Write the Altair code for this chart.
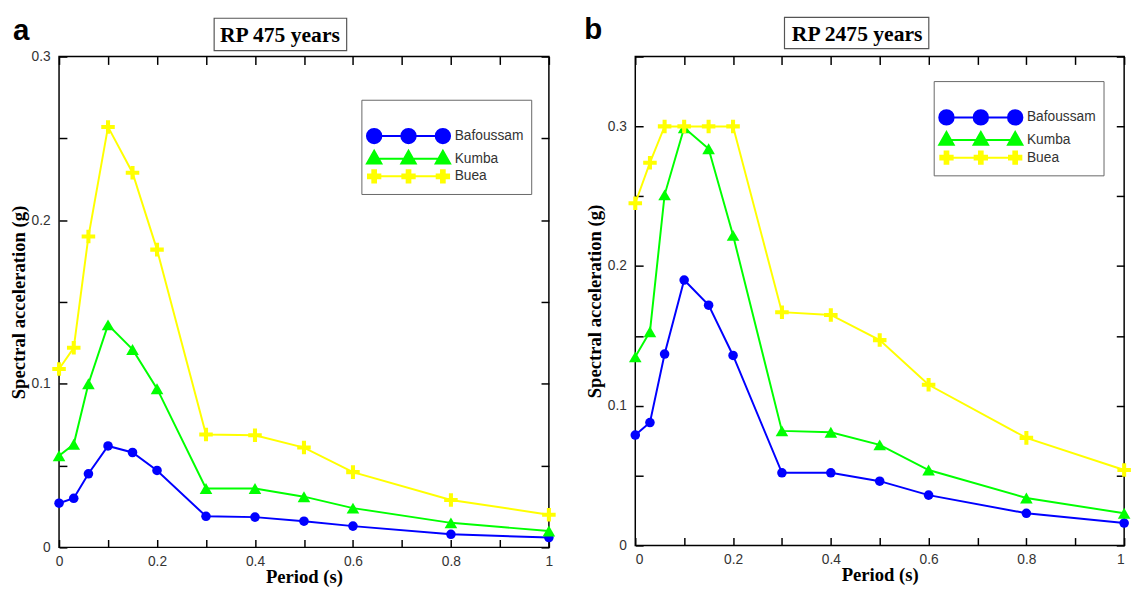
import altair as alt
import pandas as pd

# ---------------- data ----------------
PERIODS = [0, 0.03, 0.06, 0.1, 0.15, 0.2, 0.3, 0.4, 0.5, 0.6, 0.8, 1.0]
SERIES = ["Bafoussam", "Kumba", "Buea"]
COLORS = ["#0000FF", "#00FF00", "#FFFF00"]

RP475_BAFOUSSAM = [0.027, 0.030, 0.045, 0.062, 0.058, 0.047, 0.019, 0.0185, 0.016, 0.013, 0.008, 0.006]
RP475_KUMBA = [0.056, 0.063, 0.100, 0.136, 0.121, 0.097, 0.036, 0.036, 0.031, 0.024, 0.015, 0.010]
RP475_BUEA = [0.109, 0.122, 0.190, 0.257, 0.229, 0.182, 0.069, 0.0685, 0.061, 0.046, 0.029, 0.020]

RP2475_BAFOUSSAM = [0.079, 0.088, 0.137, 0.190, 0.172, 0.136, 0.052, 0.052, 0.046, 0.036, 0.023, 0.016]
RP2475_KUMBA = [0.135, 0.153, 0.251, 0.299, 0.284, 0.222, 0.082, 0.081, 0.072, 0.054, 0.034, 0.023]
RP2475_BUEA = [0.245, 0.274, 0.300, 0.300, 0.300, 0.300, 0.167, 0.165, 0.147, 0.115, 0.077, 0.054]

PANEL_LETTERS = ["a", "b"]
PANEL_TITLES = ["RP 475 years", "RP 2475 years"]
X_TITLE = "Period (s)"
Y_TITLE = "Spectral acceleration (g)"

X_TICKS = [0, 0.1, 0.2, 0.3, 0.4, 0.5, 0.6, 0.7, 0.8, 0.9, 1.0]
X_LABELED = [0, 0.2, 0.4, 0.6, 0.8, 1.0]
Y_TICKS_A = [0, 0.05, 0.1, 0.15, 0.2, 0.25, 0.3]
Y_TICKS_B = [0, 0.05, 0.1, 0.15, 0.2, 0.25, 0.3, 0.35]
Y_LABELED = [0, 0.1, 0.2, 0.3]


def long_df(values, key):
    rows = []
    for s, vals in zip(SERIES, values):
        for p, v in zip(PERIODS, vals):
            rows.append({"period": p, "value": v, key: s})
    return pd.DataFrame(rows)


# ---------------- marker shapes ----------------
PLUS = "M-1,-0.3H-0.3V-1H0.3V-0.3H1V0.3H0.3V1H-0.3V0.3H-1Z"
MARK_SHAPES = ["circle", "triangle-up", PLUS]
MARK_SIZES = [95, 165, 190]


def circ(cx, r=1.05):
    return f"M{cx - r},0A{r},{r} 0 1,0 {cx + r},0A{r},{r} 0 1,0 {cx - r},0Z"


def tri(cx):
    return f"M{cx},-1.15L{cx + 1.05},0.7L{cx - 1.05},0.7Z"


def plus(cx, a=0.9, t=0.27):
    return (f"M{cx - a},{-t}H{cx - t}V{-a}H{cx + t}V{-t}H{cx + a}V{t}H{cx + t}"
            f"V{a}H{cx - t}V{t}H{cx - a}Z")


LINE = "M-5,0H5"
LEGEND_PATHS = [
    LINE + circ(-5) + circ(0) + circ(5),
    LINE + tri(-5) + tri(0) + tri(5),
    LINE + plus(-5) + plus(0) + plus(5),
]


def lbl_expr(vals, mult):
    arr = ",".join(str(round(v * mult)) for v in vals)
    return f"indexof([{arr}], round(datum.value*{mult})) >= 0 ? format(datum.value, '~g') : ''"


def panel(values, key, letter, title, ymax, yticks, width, height, lx, ly, box, title_xy,
          letter_xy, flush):
    df = long_df(values, key)
    x_scale = alt.Scale(domain=[0, 1], nice=False, zero=False)
    y_scale = alt.Scale(domain=[0, ymax], nice=False, zero=True)

    x_bottom = alt.Axis(orient="bottom", values=X_TICKS, labelExpr=lbl_expr(X_LABELED, 10),
                        offset=-8, tickSize=8, labelPadding=7, title=X_TITLE, titlePadding=0,
                        labelFlush=flush, domain=False, grid=False)
    y_left = alt.Axis(orient="left", values=yticks, labelExpr=lbl_expr(Y_LABELED, 100),
                      offset=-8, tickSize=8, labelPadding=9, title=Y_TITLE, titlePadding=3,
                      domain=False, grid=False)
    x_top = alt.Axis(orient="top", values=X_TICKS, labels=False, offset=-8, tickSize=8,
                     minExtent=0, title=None, domain=False, grid=False)
    y_right = alt.Axis(orient="right", values=yticks, labels=False, offset=-8, tickSize=8,
                       minExtent=0, title=None, domain=False, grid=False)

    layers = []
    for i, s in enumerate(SERIES):
        xa = x_bottom if i == 0 else None
        ya = y_left if i == 0 else None
        line = alt.Chart().mark_line(strokeWidth=2, color=COLORS[i]).encode(
            x=alt.X("period:Q", scale=x_scale, axis=xa),
            y=alt.Y("value:Q", scale=y_scale, axis=ya),
        ).transform_filter(alt.datum[key] == s)
        xa2 = x_top if i == 0 else None
        ya2 = y_right if i == 0 else None
        pts = alt.Chart().mark_point(shape=MARK_SHAPES[i], filled=True, size=MARK_SIZES[i],
                                     opacity=1, strokeWidth=0, color=COLORS[i]).encode(
            x=alt.X("period:Q", scale=x_scale, axis=xa2),
            y=alt.Y("value:Q", scale=y_scale, axis=ya2),
        ).transform_filter(alt.datum[key] == s)
        layers += [line, pts]

    leg = alt.Legend(orient="none", legendX=lx, legendY=ly, direction="vertical",
                     title=" ", titleFontSize=14, titlePadding=8,
                     symbolSize=196, symbolStrokeWidth=2, symbolOffset=33, labelOffset=39,
                     symbolOpacity=1,
                     rowPadding=-2, padding=7, strokeColor="#666666", fillColor="white",
                     labelFont="Liberation Sans", labelFontSize=14, labelColor="#333333")
    legend_layer = alt.Chart().mark_point(filled=True, size=196, opacity=1, strokeWidth=2).encode(
        fill=alt.Fill(f"{key}:N", scale=alt.Scale(domain=SERIES, range=COLORS), legend=leg),
        stroke=alt.Stroke(f"{key}:N", scale=alt.Scale(domain=SERIES, range=COLORS), legend=leg),
        shape=alt.Shape(f"{key}:N", scale=alt.Scale(domain=SERIES, range=LEGEND_PATHS), legend=leg),
    ).transform_filter("false")
    layers.append(legend_layer)

    tdf = pd.DataFrame({"t": [title]})
    ldf = pd.DataFrame({"t": [letter]})
    box_layer = alt.Chart(tdf).mark_rect(fill="white", stroke="#555555", strokeWidth=1.2).encode(
        x=alt.value(box[0]), x2=alt.value(box[1]), y=alt.value(box[2]), y2=alt.value(box[3]))
    title_layer = alt.Chart(tdf).mark_text(font="Liberation Serif", fontWeight="bold", fontSize=22,
                                           align="center", baseline="alphabetic", color="black").encode(
        x=alt.value(title_xy[0]), y=alt.value(title_xy[1]), text="t:N")
    letter_layer = alt.Chart(ldf).mark_text(font="Liberation Sans", fontWeight="bold", fontSize=30,
                                            align="left", baseline="alphabetic", color="black").encode(
        x=alt.value(letter_xy[0]), y=alt.value(letter_xy[1]), text="t:N")
    layers += [box_layer, title_layer, letter_layer]

    return alt.layer(*layers, data=df).resolve_axis(x="independent", y="independent").properties(
        width=width, height=height)


left = panel([RP475_BAFOUSSAM, RP475_KUMBA, RP475_BUEA], "site_a", PANEL_LETTERS[0],
             PANEL_TITLES[0], 0.3, Y_TICKS_A, 499, 500,
             308, 44, (158, 293, -39, -6), (225, -14.5), (-47, -16.8), False)
right = panel([RP2475_BAFOUSSAM, RP2475_KUMBA, RP2475_BUEA], "site_b", PANEL_LETTERS[1],
              PANEL_TITLES[1], 0.35, Y_TICKS_B, 498, 498,
              304, 25, (152, 299, -40, -8), (226, -16), (-52, -18.3), True)

chart = alt.hconcat(left, right, spacing=27).resolve_scale(
    fill="independent", stroke="independent", shape="independent"
).resolve_legend(
    fill="independent", stroke="independent", shape="independent"
).properties(
    padding={"left": 0, "top": 0, "right": 0, "bottom": 0}
).configure_view(stroke="black", strokeWidth=1.5).configure_axis(
    labelFont="Liberation Sans", labelFontSize=14, labelColor="#333333",
    titleFont="Liberation Serif", titleFontWeight="bold", titleFontSize=19, titleColor="black",
    tickColor="black", tickWidth=1.5,
)

chart.save("out.html", embed_options={"renderer": "svg", "actions": False})
